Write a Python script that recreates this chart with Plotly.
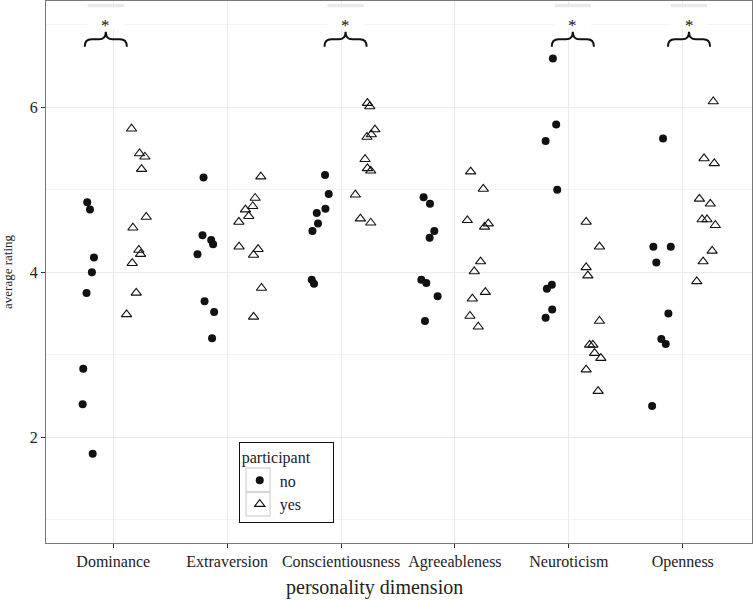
import plotly.graph_objects as go

# ---------------- data ----------------
categories = ["Dominance", "Extraversion", "Conscientiousness",
              "Agreeableness", "Neuroticism", "Openness"]

no_ratings = [
    [4.85, 4.76, 4.18, 4.00, 3.75, 2.83, 2.40, 1.80],
    [5.15, 4.45, 4.39, 4.34, 4.22, 3.65, 3.52, 3.20],
    [5.18, 4.95, 4.77, 4.72, 4.59, 4.50, 3.91, 3.86],
    [4.91, 4.83, 4.50, 4.42, 3.91, 3.87, 3.71, 3.41],
    [6.59, 5.79, 5.59, 5.00, 3.85, 3.80, 3.55, 3.45],
    [5.62, 4.31, 4.31, 4.12, 3.50, 3.19, 3.13, 2.38],
]
no_jitter = [
    [-0.228, -0.204, -0.169, -0.187, -0.234, -0.263, -0.268, -0.180],
    [-0.207, -0.216, -0.140, -0.123, -0.260, -0.198, -0.114, -0.132],
    [-0.140, -0.108, -0.137, -0.213, -0.202, -0.251, -0.257, -0.237],
    [-0.275, -0.219, -0.181, -0.222, -0.295, -0.251, -0.152, -0.263],
    [-0.140, -0.111, -0.204, -0.102, -0.149, -0.193, -0.146, -0.204],
    [-0.173, -0.258, -0.105, -0.232, -0.126, -0.188, -0.149, -0.269],
]
yes_ratings = [
    [5.74, 5.44, 5.40, 5.25, 4.67, 4.54, 4.27, 4.22, 4.11, 3.75, 3.49],
    [5.16, 4.90, 4.80, 4.76, 4.68, 4.61, 4.31, 4.28, 4.21, 3.81, 3.46],
    [6.05, 6.01, 5.73, 5.67, 5.64, 5.37, 5.26, 5.23, 4.94, 4.65, 4.60],
    [5.22, 5.01, 4.63, 4.59, 4.55, 4.13, 4.01, 3.76, 3.68, 3.47, 3.34],
    [4.61, 4.31, 4.06, 3.96, 3.41, 3.12, 3.12, 3.02, 2.96, 2.82, 2.56],
    [6.07, 5.38, 5.32, 4.89, 4.83, 4.64, 4.64, 4.57, 4.26, 4.13, 3.89],
]
yes_jitter = [
    [0.161, 0.231, 0.278, 0.249, 0.290, 0.173, 0.225, 0.240, 0.167, 0.202, 0.117],
    [0.296, 0.246, 0.225, 0.161, 0.190, 0.103, 0.105, 0.272, 0.232, 0.302, 0.232],
    [0.232, 0.252, 0.298, 0.266, 0.228, 0.211, 0.232, 0.261, 0.126, 0.170, 0.261],
    [0.138, 0.249, 0.109, 0.293, 0.260, 0.225, 0.170, 0.267, 0.153, 0.132, 0.205],
    [0.152, 0.269, 0.152, 0.167, 0.269, 0.182, 0.211, 0.226, 0.281, 0.152, 0.257],
    [0.268, 0.187, 0.277, 0.146, 0.242, 0.170, 0.213, 0.286, 0.258, 0.179, 0.123],
]
significant = [True, False, True, False, True, True]
sig_label = "*"
y_ticks = [2, 4, 6]
y_minor = [1, 3, 5, 7]
x_title = "personality dimension"
y_title = "average rating"
legend_title = "participant"

# ---------------- figure ----------------
FONT = "Liberation Serif, Times New Roman, serif"

def flatten(vals, jit):
    xs, ys = [], []
    for i, (v, j) in enumerate(zip(vals, jit)):
        for vv, jj in zip(v, j):
            xs.append(i + 1 + jj)
            ys.append(vv)
    return xs, ys

fig = go.Figure()
xn, yn = flatten(no_ratings, no_jitter)
xy, yy = flatten(yes_ratings, yes_jitter)
fig.add_trace(go.Scatter(x=xn, y=yn, mode="markers", name="no",
                         marker=dict(symbol="circle", size=8, color="#111111",
                                     line=dict(width=0))))
fig.add_trace(go.Scatter(x=xy, y=yy, mode="markers", name="yes",
                         marker=dict(symbol="triangle-up-open", size=9,
                                     color="#111111", line=dict(width=1.1))))

shapes = []
annotations = []
brace_shift = [-0.065, 0.0, 0.04, 0.0, 0.035, 0.055]
for i, sig in enumerate(significant):
    if not sig:
        continue
    cx = i + 1 + brace_shift[i]
    hw = 0.185
    L, R = cx - hw, cx + hw
    yb, ym, yt = 6.735, 6.824, 6.916
    q = 0.06
    path = (f"M {L},{yb} Q {L},{ym} {L+q},{ym} L {cx-q},{ym} Q {cx},{ym} {cx},{yt} "
            f"Q {cx},{ym} {cx+q},{ym} L {R-q},{ym} Q {R},{ym} {R},{yb}")
    shapes.append(dict(type="rect", xref="x", yref="y", x0=cx - 0.16, x1=cx + 0.16,
                       y0=6.95, y1=7.212, fillcolor="white", line=dict(width=0),
                       layer="above"))
    shapes.append(dict(type="rect", xref="x", yref="y", x0=cx - 0.16, x1=cx + 0.16,
                       y0=7.212, y1=7.252, fillcolor="#e9e9e9", line=dict(width=0),
                       layer="above"))
    shapes.append(dict(type="path", path=path, xref="x", yref="y",
                       line=dict(color="#111111", width=2), layer="above"))
    annotations.append(dict(x=cx, y=6.995, xref="x", yref="y", text=sig_label,
                            showarrow=False, yanchor="middle",
                            font=dict(family=FONT, size=17, color="#111111")))

# legend background and grey key boxes (ggplot style)
shapes.append(dict(type="rect", xref="paper", yref="paper", x0=0.2735, x1=0.401,
                   y0=0.040, y1=0.187, fillcolor="white", line=dict(width=0),
                   layer="above"))
for y0, y1 in [(0.0941, 0.1384), (0.0498, 0.0941)]:
    shapes.append(dict(type="rect", xref="paper", yref="paper", x0=0.2833, x1=0.3173,
                       y0=y0, y1=y1, fillcolor="rgba(0,0,0,0)",
                       line=dict(color="#c8c8c8", width=1), layer="above"))

# x axis title centred like the reference
annotations.append(dict(x=0.466, y=-0.083, xref="paper", yref="paper", text=x_title,
                        showarrow=False, xanchor="center", yanchor="middle",
                        font=dict(family=FONT, size=20, color="#222222")))

fig.update_layout(
    width=753, height=600,
    margin=dict(l=46, r=1, t=1, b=57),
    paper_bgcolor="white", plot_bgcolor="white",
    font=dict(family=FONT, color="#222222"),
    shapes=shapes, annotations=annotations,
    legend=dict(x=0.273, y=0.187, xanchor="left", yanchor="top",
                bordercolor="#111111", borderwidth=1, bgcolor="rgba(0,0,0,0)",
                title=dict(text=legend_title + "\u00a0" * 5,
                           font=dict(family=FONT, size=16)),
                font=dict(family=FONT, size=16)),
    xaxis=dict(range=[0.41, 6.608], tickvals=list(range(1, len(categories) + 1)),
               ticktext=categories, showgrid=True, gridcolor="#ebebeb", gridwidth=1,
               zeroline=False, ticks="outside", ticklen=4, tickcolor="#333333",
               showline=True, linecolor="#777777", linewidth=1, mirror=True,
               tickfont=dict(family=FONT, size=16, color="#222222")),
    yaxis=dict(range=[0.719, 7.288], tickvals=y_ticks, showgrid=True,
               gridcolor="#ebebeb", gridwidth=1,
               minor=dict(tickvals=y_minor, showgrid=True, gridcolor="#f3f3f3",
                          gridwidth=1, ticks=""),
               zeroline=False, ticks="outside", ticklen=4, tickcolor="#333333",
               showline=True, linecolor="#777777", linewidth=1, mirror=True,
               tickfont=dict(family=FONT, size=16, color="#222222"),
               title=dict(text=y_title, standoff=14,
                          font=dict(family=FONT, size=13, color="#222222"))),
)

fig.write_html("out.html", config=dict(displayModeBar=False),
               post_script="document.body.style.margin='0';document.body.style.overflow='hidden';")
